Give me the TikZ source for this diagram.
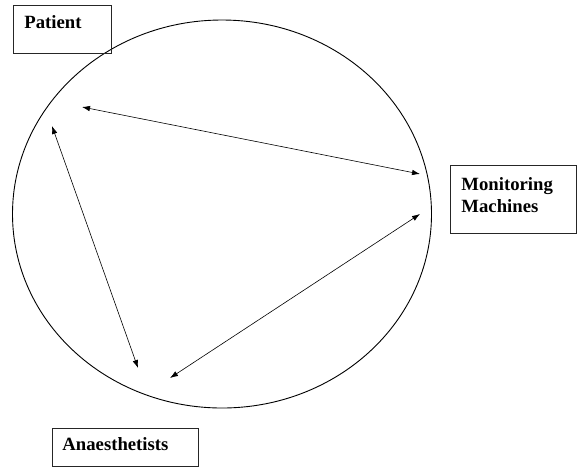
\documentclass[tikz,border=0pt]{standalone}
\usepackage{fontspec}
\setmainfont{Liberation Serif}
\usetikzlibrary{arrows.meta,shapes.geometric}

\begin{document}
\begin{tikzpicture}[x=1pt,y=-1pt,
  >={Latex[length=8pt,width=5.5pt]},
  font=\fontsize{18.7}{22}\selectfont\bfseries,
  box/.style={draw=black!85,line width=0.9pt,anchor=north west,align=left,inner ysep=0pt}]
  \useasboundingbox (0,0) rectangle (577,467);
  % the ring
  \draw[line width=0.9pt] (222,214) ellipse [x radius=209.5, y radius=194];
  % the three parties
  \node[box,inner xsep=11pt,text width=76pt,text height=23pt,text depth=25pt] (patient) at (13,5) {Patient};
  \node[box,inner xsep=11pt,text width=104pt,text height=25pt,text depth=43pt] (machines) at (450,165) {Monitoring\\Machines};
  \node[box,inner xsep=10pt,text width=126pt,text height=22pt,text depth=16pt] (staff) at (52,428) {Anaesthetists};
  % arrow ends inside the ring
  \coordinate (p1) at (82,107);
  \coordinate (p2) at (52,126);
  \coordinate (m1) at (420,174);
  \coordinate (m2) at (420,214);
  \coordinate (a1) at (138,368);
  \coordinate (a2) at (170,378);
  \draw[<->,line width=0.6pt] (p1) -- (m1);
  \draw[<->,line width=0.6pt] (p2) -- (a1);
  \draw[<->,line width=0.6pt] (m2) -- (a2);
\end{tikzpicture}
\end{document}
